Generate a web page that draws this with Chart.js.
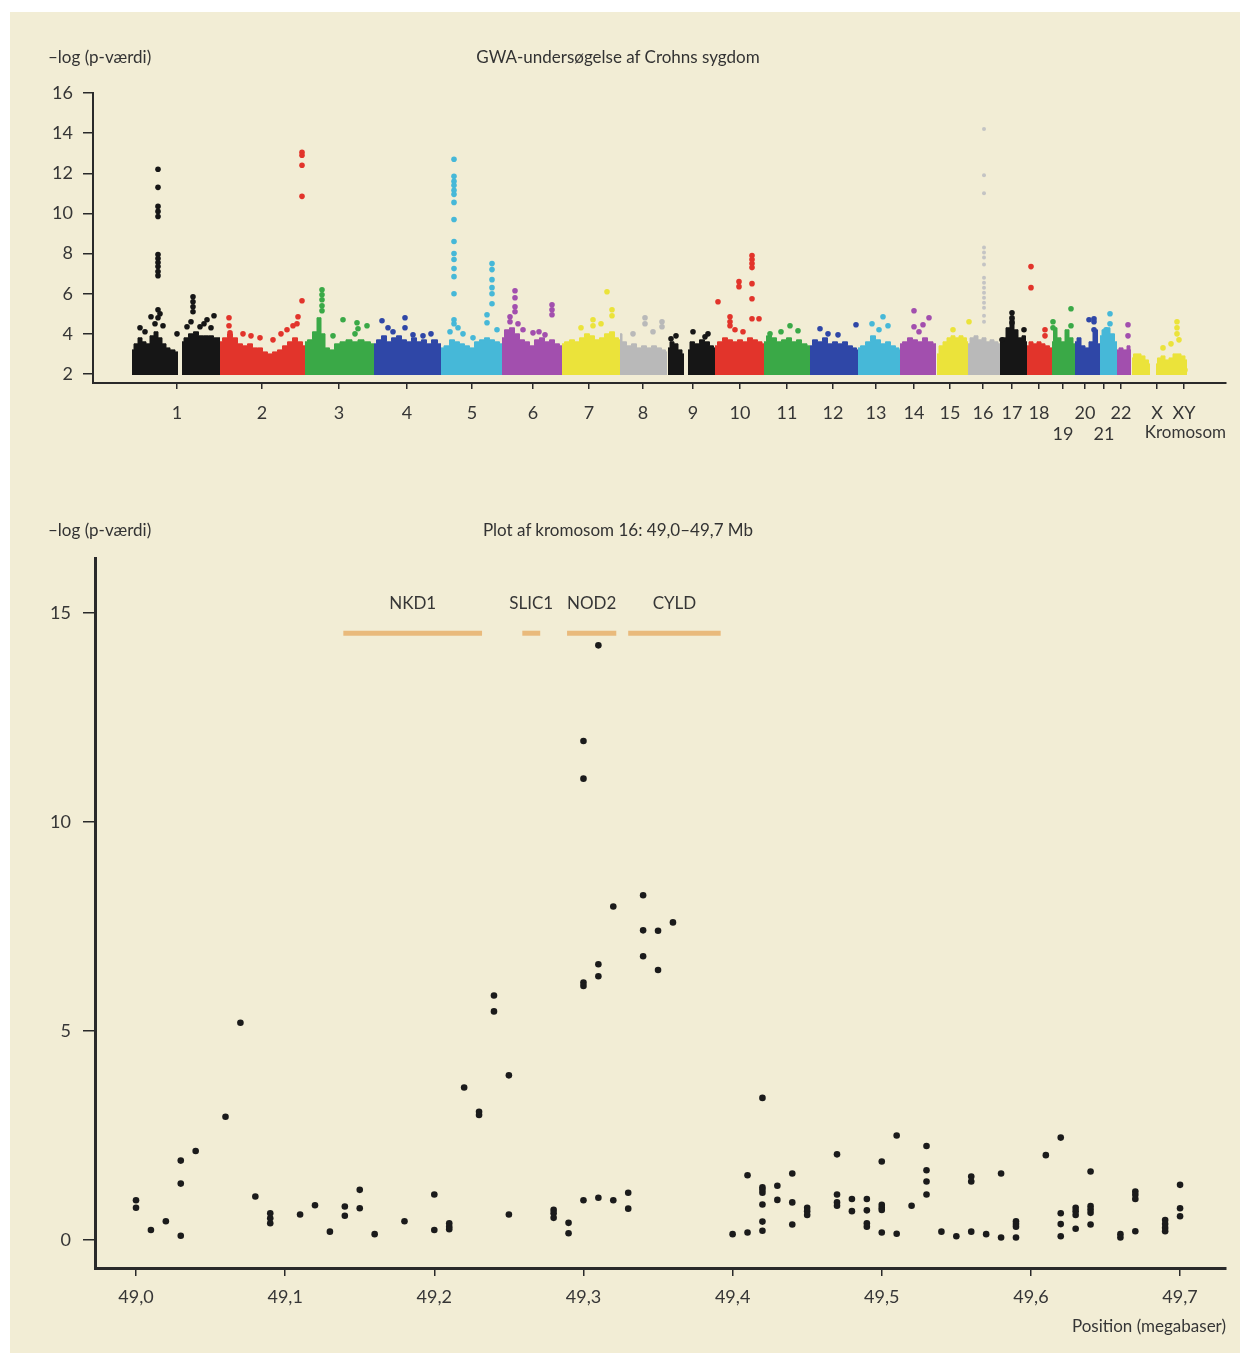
<!DOCTYPE html>
<html>
<head>
<meta charset="utf-8">
<script src="https://cdn.jsdelivr.net/npm/chart.js@4.4.0/dist/chart.umd.min.js"></script>
<style>
  body { margin: 0; background: #fff; }
  #page { position: relative; width: 1250px; height: 1365px; font-family: Lato, 'Open Sans', sans-serif; color: #333; }
  #panel { position: absolute; left: 10px; top: 12px; width: 1230px; height: 1341px; background: #f2edd5; }
  canvas { position: absolute; left: 0; }
  .lbl { position: absolute; font-size: 17px; line-height: 20px; white-space: nowrap; }
  .mid { transform: translateX(-50%); }
</style>
</head>
<body>
<div id="page">
  <div id="panel"></div>
  <canvas id="gwas" width="1250" height="460" style="top:0"></canvas>
  <canvas id="region" width="1250" height="895" style="top:470px"></canvas>
  <div class="lbl" style="left:48px;top:47px">–log (p-værdi)</div>
  <div class="lbl mid" style="left:618px;top:47px">GWA-undersøgelse af Crohns sygdom</div>
  <div class="lbl" style="left:48px;top:520px">–log (p-værdi)</div>
  <div class="lbl mid" style="left:618px;top:520px">Plot af kromosom 16: 49,0–49,7 Mb</div>
</div>
<script>
// ---- genome-wide plot (top) ----
const chromosomes = ['1','2','3','4','5','6','7','8','9','10','11','12','13','14','15','16','17','18','19','20','21','22','X','XY'];
const chromTicks = [84,169,246,314,379,440,496,550,600,647,694,740,783,821,857,890,919,946,970,992,1011,1028,1064,1091];
const chromTickLabels = ['1','2','3','4','5','6','7','8','9','10','11','12','13','14','15','16','17','18',['','19'],'20',['','21'],'22','X','XY'];
const chromColors = ['#161616','#e2342b','#3aa947','#2f47a7','#46b8d8','#a24fae','#ebe33a','#b9b9b9',
                     '#161616','#e2342b','#3aa947','#2f47a7','#46b8d8','#a24fae','#ebe33a','#b9b9b9',
                     '#161616','#e2342b','#3aa947','#2f47a7','#46b8d8','#a24fae','#ebe33a','#ebe33a'];
const gwasYTicks = [2,4,6,8,10,12,14,16];

// top edge of the dense mass of SNPs per chromosome [position, -log p]
const blobTops = [
  ['1', [[39,3.2],[43,3.5],[47,3.8],[51,3.6],[55,3.5],[59,3.9],[63,4.1],[67,3.8],[71,3.5],[75,3.3],[79,3.2],[85,3.1]]],
  ['1', [[89,3.6],[93,3.8],[98,4.0],[103,4.1],[108,3.9],[113,3.9],[118,3.9],[123,3.8],[127,3.8]]],
  ['2', [[127,3.6],[132,3.8],[137,4.0],[142,3.8],[147,3.5],[152,3.4],[157,3.5],[162,3.3],[167,3.3],[172,3.1],[177,3.0],[182,3.1],[187,3.2],[192,3.4],[197,3.6],[202,3.8],[207,3.6],[212,3.4]]],
  ['3', [[212,3.6],[217,3.7],[222,4.1],[226,4.8],[230,4.0],[234,3.3],[239,3.2],[244,3.5],[250,3.6],[256,3.7],[262,3.6],[268,3.7],[274,3.6],[281,3.5]]],
  ['4', [[281,3.5],[286,3.7],[291,3.9],[296,3.6],[301,3.8],[306,3.9],[311,3.7],[316,3.6],[321,3.8],[326,3.6],[331,3.7],[336,3.5],[341,3.7],[348,3.5]]],
  ['5', [[348,3.3],[354,3.4],[359,3.7],[364,3.6],[369,3.5],[374,3.4],[379,3.3],[384,3.6],[389,3.7],[394,3.8],[399,3.7],[404,3.6],[409,3.5]]],
  ['6', [[409,3.8],[414,4.2],[419,4.3],[424,4.0],[429,3.7],[434,3.6],[439,3.4],[444,3.7],[449,3.8],[454,3.6],[459,3.7],[464,3.5],[469,3.4]]],
  ['7', [[469,3.5],[474,3.6],[479,3.7],[484,3.6],[489,3.8],[494,4.0],[499,3.9],[504,3.7],[509,3.8],[514,4.0],[519,4.1],[524,3.8],[527,3.7]]],
  ['8', [[527,4.0],[531,3.6],[536,3.4],[541,3.5],[546,3.3],[551,3.4],[556,3.3],[561,3.4],[566,3.3],[571,3.2],[574,3.1]]],
  ['9', [[575,3.3],[579,3.6],[583,3.5],[587,3.2],[591,3.0]]],
  ['9', [[595,3.2],[599,3.6],[604,3.5],[609,3.7],[614,3.6],[619,3.4],[622,3.3]]],
  ['10', [[622,3.4],[627,3.6],[632,3.8],[637,3.7],[642,3.6],[647,3.7],[652,3.6],[657,3.8],[662,3.7],[667,3.6],[671,3.5]]],
  ['11', [[671,3.6],[676,3.9],[681,3.8],[686,3.6],[691,3.7],[696,3.8],[701,3.6],[706,3.7],[711,3.5],[717,3.4]]],
  ['12', [[717,3.4],[722,3.7],[727,3.6],[732,3.8],[737,3.5],[742,3.6],[747,3.5],[752,3.6],[757,3.4],[762,3.3],[765,3.2]]],
  ['13', [[765,3.3],[770,3.4],[775,3.6],[780,3.9],[785,3.7],[790,3.5],[795,3.6],[800,3.4],[805,3.3],[807,3.2]]],
  ['14', [[807,3.5],[812,3.6],[817,3.8],[822,3.7],[827,3.6],[832,3.8],[837,3.6],[843,3.5]]],
  ['15', [[844,3.0],[848,3.4],[852,3.6],[856,3.8],[860,3.9],[864,3.8],[868,3.9],[872,3.8],[875,3.6]]],
  ['16', [[875,3.5],[879,3.8],[883,3.9],[887,3.7],[891,3.8],[895,3.6],[899,3.7],[903,3.6],[907,3.5]]],
  ['17', [[907,3.6],[911,3.8],[915,4.3],[919,4.8],[923,4.2],[927,3.8],[931,3.9],[934,3.6]]],
  ['18', [[934,3.4],[938,3.6],[942,3.5],[946,3.6],[950,3.5],[954,3.4],[959,3.3]]],
  ['19', [[959,3.6],[962,4.3],[966,3.8],[970,3.6],[974,4.2],[978,3.8],[982,3.5]]],
  ['20', [[982,3.6],[986,3.8],[990,3.4],[994,3.3],[998,3.6],[1002,4.2],[1007,3.5]]],
  ['21', [[1007,3.9],[1011,4.2],[1015,4.3],[1019,4.0],[1024,3.6]]],
  ['22', [[1024,3.2],[1028,3.3],[1032,3.2],[1036,3.4],[1038,3.2]]],
  ['X', [[1039,2.8],[1042,3.0],[1046,3.0],[1050,2.9],[1054,2.7],[1057,2.5]]],
  ['XY', [[1063,2.5],[1066,2.8],[1070,2.9],[1074,2.7],[1078,2.8],[1082,3.0],[1086,3.0],[1090,2.9],[1094,2.7]]]
];

// single SNPs standing out above the mass [position, -log p]
const gwasHits = [
  ['1', [[65,12.2],[65,11.3],[65,10.35],[65,10.1],[65,9.85],[65,7.95],[65,7.75],[65,7.55],[65,7.35],[65,7.1],[65,6.9],[65,5.2],[65,4.8],[58,4.85],[67,5.0],[47,4.3],[84,4.0],[121,4.9],[114,4.7],[100,5.85],[100,5.6],[100,5.35],[100,5.1],[94,4.35],[107,4.35],[98,4.6],[62,4.5],[70,4.4],[52,4.1],[111,4.5],[118,4.3]]],
  ['2', [[136,4.8],[136,4.4],[137,4.05],[167,3.8],[209,13.05],[209,12.9],[209,12.4],[209,10.85],[209,5.65],[205,4.85],[194,4.2],[200,4.4],[204,4.5],[150,4.0],[158,3.9],[180,3.7],[188,4.0]]],
  ['3', [[229,6.2],[229,5.95],[229,5.7],[229,5.4],[229,5.15],[250,4.7],[264,4.55],[274,4.4],[262,4.0],[265,4.25],[240,3.9]]],
  ['4', [[289,4.65],[312,4.8],[312,4.3],[320,3.95],[300,4.1],[295,4.3],[330,3.9],[338,4.0]]],
  ['5', [[361,12.7],[361,11.85],[361,11.6],[361,11.4],[361,11.15],[361,10.95],[361,10.55],[361,9.7],[361,8.6],[361,8.0],[361,7.7],[361,7.25],[361,6.85],[361,6.0],[361,4.7],[361,4.5],[399,7.5],[399,7.2],[399,6.7],[399,6.3],[399,6.0],[399,5.5],[394,4.95],[394,4.55],[365,4.3],[357,4.1],[370,4.0],[380,3.8],[404,4.2]]],
  ['6', [[422,6.15],[422,5.8],[422,5.35],[422,5.1],[417,4.85],[417,4.6],[459,5.45],[459,5.2],[459,4.95],[440,4.05],[425,4.5],[430,4.2],[446,4.1],[452,3.95]]],
  ['7', [[514,6.1],[519,5.2],[519,4.9],[500,4.7],[500,4.4],[488,4.3],[508,4.5]]],
  ['8', [[552,4.8],[552,4.5],[569,4.6],[569,4.35],[560,4.1],[540,4.0]]],
  ['9', [[600,4.1],[615,4.0],[578,3.75],[583,3.9],[612,3.85]]],
  ['10', [[659,7.9],[659,7.7],[659,7.5],[659,7.3],[659,6.5],[659,5.75],[659,4.75],[646,6.6],[646,6.35],[625,5.6],[666,4.75],[637,4.85],[637,4.6],[637,4.4],[642,4.2],[650,4.1]]],
  ['11', [[697,4.4],[677,4.0],[705,4.15],[688,4.1]]],
  ['12', [[727,4.25],[763,4.45],[735,4.0],[745,3.95]]],
  ['13', [[779,4.5],[790,4.85],[795,4.4],[786,4.2]]],
  ['14', [[821,5.15],[830,4.45],[836,4.8],[821,4.35],[826,4.1]]],
  ['15', [[876,4.6],[860,4.2]]],
  ['16', [[891,14.2],[891,11.9],[891,11.0],[891,8.3],[891,8.05],[891,7.8],[891,7.45],[891,6.8],[891,6.55],[891,6.3],[891,6.05],[891,5.8],[891,5.55],[891,5.3],[891,4.9],[891,4.6]]],
  ['17', [[919,5.05],[919,4.8],[919,4.55],[931,4.2],[909,3.7]]],
  ['18', [[938,7.35],[938,6.3],[952,4.2],[952,3.9]]],
  ['19', [[978,5.25],[978,4.4],[960,4.6],[960,4.3]]],
  ['20', [[1001,4.75],[1001,4.6],[1001,4.2],[996,4.7]]],
  ['21', [[1017,5.0],[1017,4.5],[1013,4.2]]],
  ['22', [[1035,4.45],[1035,3.9]]],
  ['XY', [[1084,4.6],[1084,4.3],[1084,4.0],[1078,3.5],[1070,3.3],[1086,3.7],[1092,2.2]]]
];

// ---- chromosome 16 region (bottom) ----
const regionXTicks = [49.0,49.1,49.2,49.3,49.4,49.5,49.6,49.7];
const regionYTicks = [0,5,10,15];
const genes = ['NKD1','SLIC1','NOD2','CYLD'];
const geneStart = [49.139,49.259,49.289,49.330];
const geneEnd = [49.232,49.271,49.322,49.392];
const geneLevel = 14.52;
const geneLabelLevel = 15.22;
const snps = [
  [49.00,0.95],[49.00,0.77],[49.01,0.24],[49.02,0.45],[49.03,1.90],[49.03,1.35],[49.03,0.10],[49.04,2.13],
  [49.06,2.95],[49.07,5.20],[49.08,1.04],[49.09,0.64],[49.09,0.52],[49.09,0.40],[49.11,0.61],[49.12,0.83],
  [49.13,0.20],[49.14,0.80],[49.14,0.58],[49.15,1.20],[49.15,0.76],[49.16,0.14],[49.18,0.45],[49.20,1.09],
  [49.20,0.24],[49.21,0.40],[49.21,0.32],[49.21,0.26],[49.22,3.65],[49.23,3.07],[49.23,2.99],[49.24,5.85],
  [49.24,5.47],[49.25,3.94],[49.25,0.61],[49.28,0.72],[49.28,0.64],[49.28,0.53],[49.29,0.41],[49.29,0.16],
  [49.30,11.94],[49.30,11.04],[49.30,6.16],[49.30,6.08],[49.30,0.95],[49.31,14.23],[49.31,6.60],[49.31,6.31],
  [49.31,1.01],[49.32,7.98],[49.32,0.95],[49.33,1.13],[49.33,0.75],[49.34,8.25],[49.34,7.41],[49.34,6.79],
  [49.35,7.40],[49.35,6.46],[49.36,7.60],[49.40,0.14],[49.41,1.55],[49.41,0.18],[49.42,3.40],[49.42,1.26],
  [49.42,1.20],[49.42,1.13],[49.42,0.85],[49.42,0.44],[49.42,0.22],[49.43,1.30],[49.43,0.96],[49.44,1.59],
  [49.44,0.90],[49.44,0.37],[49.45,0.77],[49.45,0.69],[49.45,0.60],[49.47,2.05],[49.47,1.09],[49.47,0.90],
  [49.47,0.82],[49.48,0.98],[49.48,0.69],[49.49,0.98],[49.49,0.71],[49.49,0.40],[49.49,0.32],[49.50,1.88],
  [49.50,0.84],[49.50,0.77],[49.50,0.72],[49.50,0.18],[49.51,2.50],[49.51,0.15],[49.52,0.82],[49.53,2.25],
  [49.53,1.67],[49.53,1.40],[49.53,1.09],[49.54,0.20],[49.55,0.09],[49.56,1.52],[49.56,1.40],[49.56,0.20],
  [49.57,0.14],[49.58,1.59],[49.58,0.06],[49.59,0.45],[49.59,0.38],[49.59,0.32],[49.59,0.06],[49.61,2.03],
  [49.62,2.45],[49.62,0.64],[49.62,0.38],[49.62,0.09],[49.63,0.77],[49.63,0.69],[49.63,0.60],[49.63,0.27],
  [49.64,1.64],[49.64,0.81],[49.64,0.73],[49.64,0.65],[49.64,0.37],[49.66,0.14],[49.66,0.06],[49.67,1.16],
  [49.67,1.08],[49.67,0.98],[49.67,0.21],[49.69,0.48],[49.69,0.38],[49.69,0.29],[49.69,0.21],[49.70,1.32],
  [49.70,0.76],[49.70,0.57]
];

const fontFamily = 'Lato, "Open Sans", sans-serif';
const textColor = '#363636';
const axisColor = '#2a2a2a';
const colorOf = chr => chromColors[chromosomes.indexOf(chr)];

// top chart datasets
const gwasDatasets = [];
blobTops.forEach(([chr, tops]) => {
  gwasDatasets.push({
    type: 'line',
    data: tops.map(([x, y]) => ({ x, y })),
    borderColor: colorOf(chr),
    backgroundColor: colorOf(chr),
    borderWidth: 1,
    stepped: 'middle',
    pointRadius: 0,
    fill: { value: 1.95 },
    order: 2
  });
});
gwasHits.forEach(([chr, pts]) => {
  gwasDatasets.push({
    type: 'scatter',
    data: pts.map(([x, y]) => ({ x, y })),
    backgroundColor: chr === '16' ? '#c4c4c4' : colorOf(chr),
    borderWidth: 0,
    pointRadius: chr === '16' ? 2 : 2.8,
    order: 1
  });
});

new Chart(document.getElementById('gwas'), {
  type: 'scatter',
  data: { datasets: gwasDatasets },
  options: {
    responsive: false,
    animation: false,
    events: [],
    layout: { padding: { left: 33, top: 93, right: 24, bottom: 17 } },
    plugins: { legend: { display: false }, tooltip: { enabled: false } },
    scales: {
      x: {
        type: 'linear',
        min: 0,
        max: 1133,
        afterBuildTicks: s => { s.ticks = chromTicks.map(v => ({ value: v })); },
        afterFit: s => { s.height = 60; },
        grid: { drawOnChartArea: false, tickLength: 6, color: axisColor, lineWidth: 1.5 },
        border: { color: axisColor, width: 2 },
        ticks: {
          autoSkip: false, maxRotation: 0, padding: 13, color: textColor,
          font: { family: fontFamily, size: 18 },
          callback: (v, i) => chromTickLabels[i]
        },
        title: {
          display: true, text: 'Kromosom', align: 'end', color: textColor,
          font: { family: fontFamily, size: 17 }, padding: 0
        }
      },
      y: {
        min: 1.55,
        max: 16,
        afterBuildTicks: s => { s.ticks = gwasYTicks.map(v => ({ value: v })); },
        afterFit: s => { s.width = 60; },
        grid: { drawOnChartArea: false, tickLength: 10, color: axisColor, lineWidth: 1.5 },
        border: { color: axisColor, width: 2 },
        ticks: { padding: 10, color: textColor, font: { family: fontFamily, size: 18 } }
      }
    }
  }
});

// bottom chart
const geneLabels = {
  id: 'geneLabels',
  afterDatasetsDraw(chart) {
    const { ctx, scales: { x, y } } = chart;
    ctx.save();
    ctx.font = '17px ' + fontFamily;
    ctx.fillStyle = textColor;
    ctx.textAlign = 'center';
    ctx.textBaseline = 'middle';
    genes.forEach((g, i) => {
      ctx.fillText(g, x.getPixelForValue((geneStart[i] + geneEnd[i]) / 2), y.getPixelForValue(geneLabelLevel));
    });
    ctx.restore();
  }
};

const regionDatasets = genes.map((g, i) => ({
  type: 'line',
  data: [{ x: geneStart[i], y: geneLevel }, { x: geneEnd[i], y: geneLevel }],
  borderColor: '#e9ba7c',
  borderWidth: 5,
  pointRadius: 0,
  order: 2
}));
regionDatasets.push({
  type: 'scatter',
  data: snps.map(([x, y]) => ({ x, y })),
  backgroundColor: '#1b1b1b',
  borderWidth: 0,
  pointRadius: 3.3,
  order: 1
});

new Chart(document.getElementById('region'), {
  type: 'scatter',
  data: { datasets: regionDatasets },
  plugins: [geneLabels],
  options: {
    responsive: false,
    animation: false,
    events: [],
    layout: { padding: { left: 35, top: 88, right: 24, bottom: 28 } },
    plugins: { legend: { display: false }, tooltip: { enabled: false } },
    scales: {
      x: {
        type: 'linear',
        min: 48.9725,
        max: 49.7308,
        afterBuildTicks: s => { s.ticks = regionXTicks.map(v => ({ value: v })); },
        afterFit: s => { s.height = 69; },
        grid: { drawOnChartArea: false, tickLength: 8, color: axisColor, lineWidth: 1.5 },
        border: { color: axisColor, width: 3 },
        ticks: {
          autoSkip: false, maxRotation: 0, padding: 10, color: textColor,
          font: { family: fontFamily, size: 18 },
          callback: v => v.toFixed(1).replace('.', ',')
        },
        title: {
          display: true, text: 'Position (megabaser)', align: 'end', color: textColor,
          font: { family: fontFamily, size: 17 }, padding: 0
        }
      },
      y: {
        min: -0.67,
        max: 16.32,
        afterBuildTicks: s => { s.ticks = regionYTicks.map(v => ({ value: v })); },
        afterFit: s => { s.width = 60; },
        grid: { drawOnChartArea: false, tickLength: 12, color: axisColor, lineWidth: 1.5 },
        border: { color: axisColor, width: 3 },
        ticks: { padding: 12, color: textColor, font: { family: fontFamily, size: 18 } }
      }
    }
  }
});
</script>
</body>
</html>
